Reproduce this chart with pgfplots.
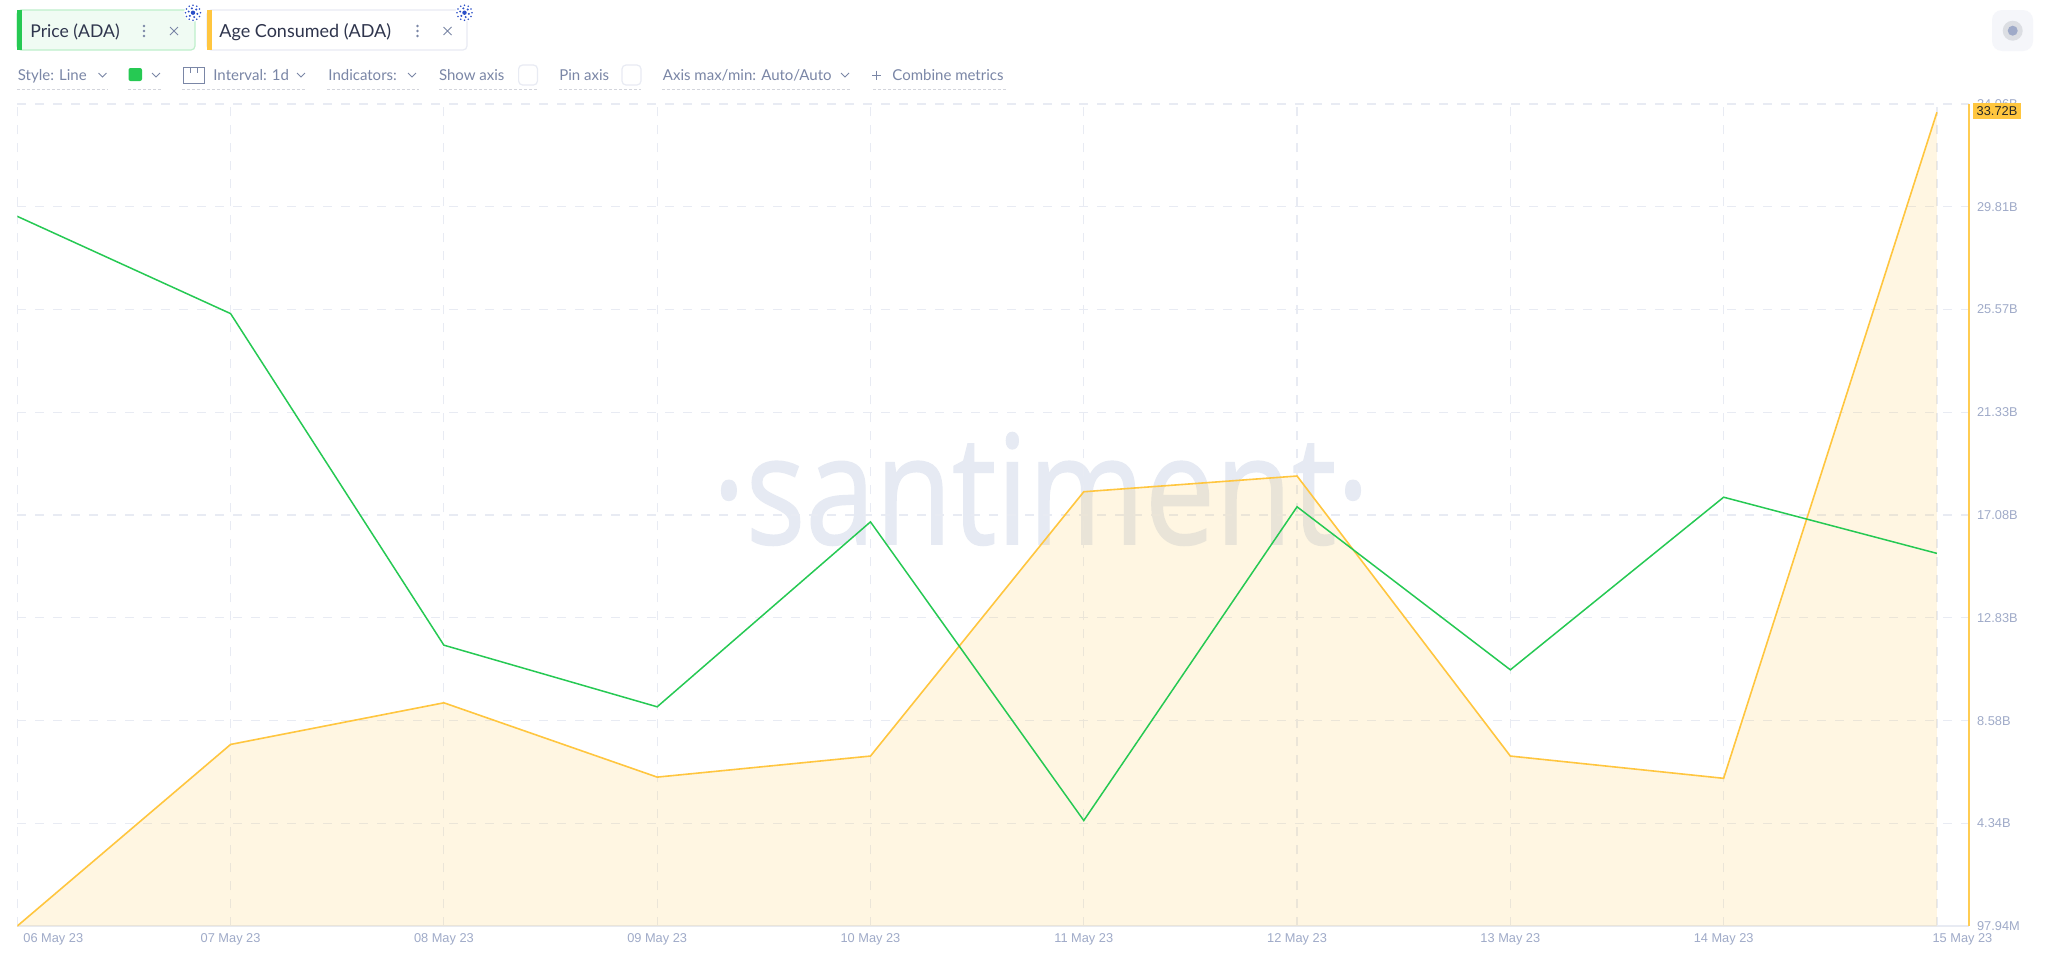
\documentclass[border=0pt]{standalone}
\usepackage{fontspec}
\setmainfont{Liberation Sans}
\newfontfamily\uifont{Lato}
\newfontfamily\wmfont[FakeBold=1]{Open Sans}
\usepackage{pgfplots}
\usepackage{pgfplotstable}
\pgfplotsset{compat=1.18}

% age consumed, billions
\pgfplotstableread{
day age
0 0.098
1 7.60
2 9.32
3 6.25
4 7.12
5 18.04
6 18.69
7 7.12
8 6.20
9 33.72
}\agetable

% price, usd
\pgfplotstableread{
day price
0 0.3918
1 0.3847
2 0.3605
3 0.3560
4 0.3695
5 0.3477
6 0.3706
7 0.3587
8 0.3713
9 0.3672
}\pricetable

\definecolor{gridc}{HTML}{E8EBF3}
\definecolor{ticktext}{HTML}{9FAAC8}
\definecolor{ageline}{HTML}{FFC63F}
\definecolor{priceline}{HTML}{26C953}
\definecolor{uitext}{HTML}{7A86A6}
\definecolor{chiptext}{HTML}{2F354D}
\definecolor{wm}{HTML}{E6EAF3}
\definecolor{ada}{HTML}{2B4FC7}

\newcommand{\chev}[2]{\draw[uitext,line width=0.45pt] (#1-4,#2-2)--(#1,#2+2)--(#1+4,#2-2);}
\newcommand{\under}[2]{\draw[gridc!80!gray,line width=0.5pt,dash pattern=on 1.5pt off 1pt] (#1,89)--(#2,89);}
\newcommand{\uitxt}[2]{\node[anchor=base west,inner sep=0pt,text=uitext,font=\uifont\fontsize{7.5}{8}\selectfont] at (#1,80) {#2};}
\newcommand{\burst}[2]{%
  \fill[white] (#1,#2) circle (9);
  \foreach \a in {0,30,...,330} {\fill[ada] (#1,#2) ++(\a:7.5) circle (0.9);}
  \foreach \a in {15,75,...,345} {\fill[ada] (#1,#2) ++(\a:4.5) circle (1.1);}
  \fill[ada] (#1,#2) circle (2.2);}
\newcommand{\menu}[2]{%
  \foreach \d in {-5,0,5} {\fill[uitext] (#1,#2+\d) circle (1.3);}
  \draw[uitext,line width=0.45pt] (#1+26,#2-4)--(#1+34,#2+4) (#1+26,#2+4)--(#1+34,#2-4);}

\begin{document}
\begin{tikzpicture}
\useasboundingbox (0,0) rectangle (1024pt,-480pt);
\fill[white] (0,0) rectangle (1024pt,-480pt);

\begin{scope}[x=0.5pt,y=-0.5pt]
% watermark
\node[anchor=base,inner sep=0pt,text=wm,xscale=0.825,font=\wmfont\fontsize{76}{80}\selectfont] at (1041,544) {·santiment·};
% metric chips
\draw[draw=priceline!30,fill=priceline!7,line width=0.6pt,rounded corners=2pt] (17,10) rectangle (195,50);
\fill[priceline] (17,10) rectangle (22,50);
\node[anchor=base west,inner sep=0pt,text=chiptext,font=\uifont\fontsize{8.8}{10}\selectfont] at (30,37) {Price (ADA)};
\menu{144}{31}
\draw[draw=gridc,fill=white,line width=0.6pt,rounded corners=2pt] (207,10) rectangle (467,50);
\fill[ageline] (207,10) rectangle (212,50);
\node[anchor=base west,inner sep=0pt,text=chiptext,font=\uifont\fontsize{9}{10}\selectfont] at (219,37) {Age Consumed (ADA)};
\menu{417.5}{31}
\burst{193}{12.7}
\burst{464.5}{12.7}
% settings row
\uitxt{17.5}{Style: Line}\chev{102.5}{75}\under{17}{108}
\fill[priceline,rounded corners=1pt] (128.5,68) rectangle (142,81);\chev{156}{75}\under{128}{162}
\draw[uitext,line width=0.5pt] (183,67) rectangle (204,83);
\draw[uitext,line width=0.5pt] (190,67)--(190,73) (197,67)--(197,73);
\uitxt{213}{Interval: 1d}\chev{301}{75}\under{182}{307}
\uitxt{328}{Indicators:}\chev{412}{75}\under{327}{419}
\uitxt{438.6}{Show axis}\draw[gridc,line width=0.6pt,rounded corners=2pt] (518.6,65) rectangle (537.5,85);\under{439}{537}
\uitxt{559}{Pin axis}\draw[gridc,line width=0.6pt,rounded corners=2pt] (622,65) rectangle (641,85);\under{559}{641}
\uitxt{662.5}{Axis max/min: Auto/Auto}\chev{845}{75}\under{662}{851}
\draw[uitext,line width=0.45pt] (872,75)--(881,75) (876.5,70.5)--(876.5,79.5);
\uitxt{892}{Combine metrics}\under{873}{1007}
% record button
\fill[gridc!45,rounded corners=5pt] (1992,10) rectangle (2033,51);
\fill[gridc!80!gray!80] (2012.7,30.7) circle (10);
\fill[ticktext] (2012.7,30.7) circle (5);
\end{scope}

\begin{axis}[
  at={(8.65pt,-463pt)},anchor=south west,
  scale only axis,width=975.7pt,height=411pt,
  xmin=0,xmax=9.149,ymin=0.09794,ymax=34.06,
  axis x line*=bottom,axis y line*=right,
  x axis line style={-,draw=gridc,line width=0.8pt},
  y axis line style={-,draw=ageline!90,line width=0.9pt},
  major tick length=0pt,
  xtick={0,...,9},
  xticklabels={\hspace{36pt}06 May 23,07 May 23,08 May 23,09 May 23,10 May 23,11 May 23,12 May 23,13 May 23,14 May 23,\hspace{25.5pt}15 May 23},
  ytick={0.09794,4.34,8.58,12.83,17.08,21.33,25.57,29.81,34.06},
  yticklabels={97.94M,4.34B,8.58B,12.83B,17.08B,21.33B,25.57B,29.81B,34.06B},
  tick label style={font=\fontsize{6.4}{7}\selectfont,text=ticktext},
  yticklabel style={anchor=west,inner sep=0pt,xshift=4pt},
  xticklabel style={anchor=center,inner sep=0pt,yshift=-6.6pt},
  grid=major,
  grid style={draw=gridc,line width=0.6pt,dash pattern=on 4.5pt off 4.5pt},
]
\addplot[draw=none,fill=ageline,fill opacity=0.15] table[x=day,y=age] {\agetable} \closedcycle;
\addplot[draw=ageline,line width=0.8pt] table[x=day,y=age] {\agetable};
\end{axis}

\begin{axis}[
  at={(8.65pt,-463pt)},anchor=south west,
  scale only axis,width=975.7pt,height=411pt,
  xmin=0,xmax=9.149,ymin=0.34,ymax=0.40,
  hide axis,
]
\addplot[draw=priceline,line width=0.75pt] table[x=day,y=price] {\pricetable};
\end{axis}

\begin{scope}[x=0.5pt,y=-0.5pt]
\fill[ageline] (1973,103) rectangle (2021,119);
\node[inner sep=0pt,text=black!85,font=\fontsize{6.4}{7}\selectfont] at (1997,111) {33.72B};
\end{scope}
\end{tikzpicture}
\end{document}
